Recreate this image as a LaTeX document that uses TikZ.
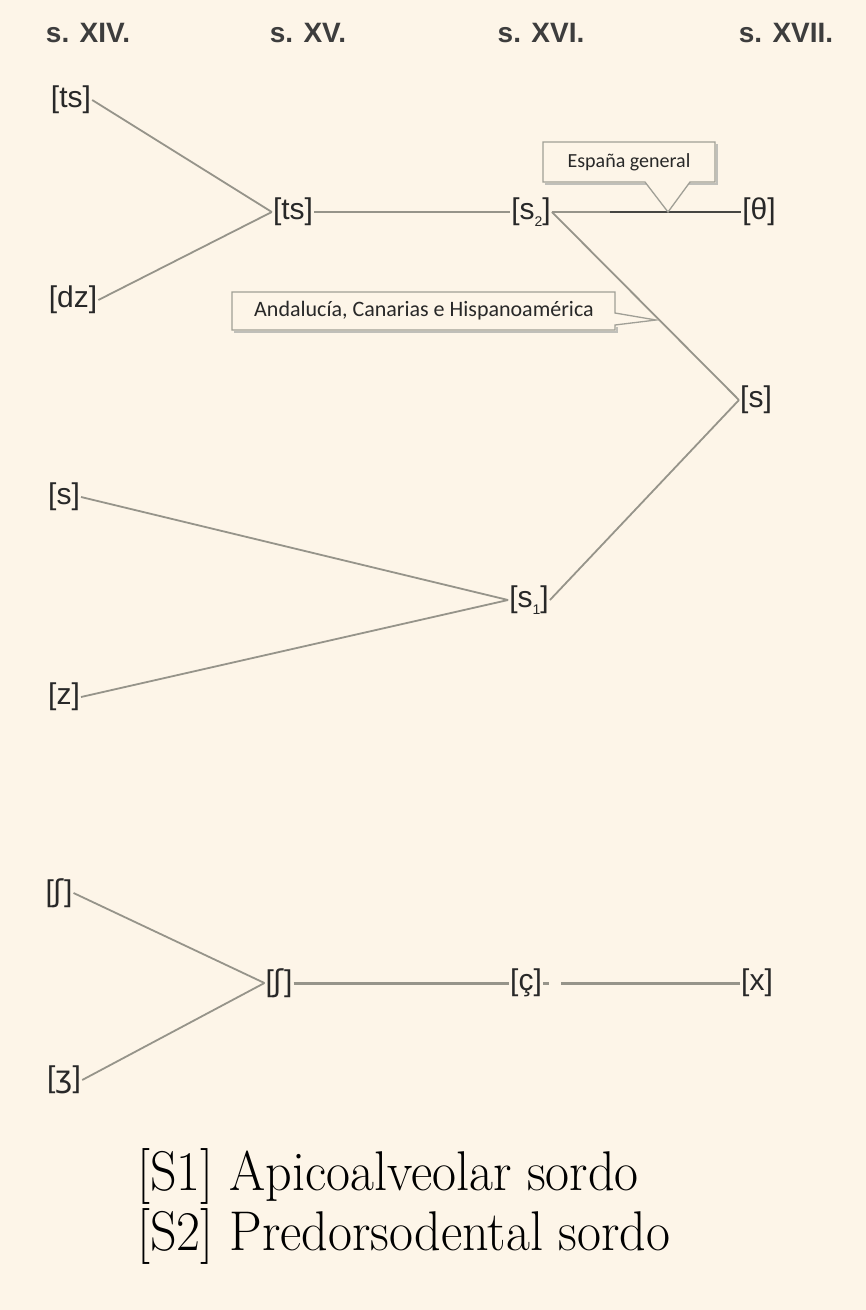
\documentclass[tikz,border=0pt]{standalone}
\usepackage{fontspec}
\newfontfamily\arialfnt{Liberation Sans}
\newfontfamily\ipafnt{DejaVu Sans}
\newfontfamily\calfnt{Carlito}
\definecolor{bg}{RGB}{253,245,232}
\definecolor{ln}{RGB}{150,148,138}
\definecolor{dk}{RGB}{70,70,66}
\definecolor{tx}{RGB}{40,40,40}
\newcommand{\sbs}[1]{\raisebox{-0.25em}{\fontsize{14}{14}\selectfont #1}}
\tikzset{
  lab/.style={font=\arialfnt\fontsize{30}{30}\selectfont, text=tx, inner sep=1pt},
  hdr/.style={font=\arialfnt\bfseries\fontsize{28}{28}\selectfont, text=tx!90, inner sep=0pt},
  con/.style={draw=ln, line width=1.8pt},
  box/.style={draw=ln!90, line width=1.3pt, fill=bg},
  shd/.style={draw=ln!60, line width=1.5pt},
  call/.style={font=\calfnt\fontsize{20}{20}\selectfont, text=tx, inner sep=0pt},
  leg/.style={font=\fontsize{56}{60}\selectfont, text=black, anchor=base west, inner sep=0pt}
}
\begin{document}
\begin{tikzpicture}[x=1pt,y=1pt]
\fill[bg] (0,0) rectangle (866,-1310);
\useasboundingbox (0,0) rectangle (866,-1310);
% headers
\node[hdr] (h1) at (88,-33) {s. XIV.};
\node[hdr] (h2) at (308,-33) {s. XV.};
\node[hdr] (h3) at (541,-33) {s. XVI.};
\node[hdr] (h4) at (786,-33) {s. XVII.};
% nodes
\node[lab] (ts1) at (71,-100) {[ts]};
\node[lab] (dz) at (73,-300) {[dz]};
\node[lab] (ts2) at (293,-212) {[ts]};
\node[lab] (s2) at (531,-212) {[s\sbs{2}]};
\node[lab] (th) at (759,-212) {[θ]};
\node[lab] (sr) at (756,-400) {[s]};
\node[lab] (sl) at (64,-497) {[s]};
\node[lab] (s1) at (529,-600) {[s\sbs{1}]};
\node[lab] (z) at (64,-697) {[z]};
\node[lab] (sh1) at (59,-893) {[{\ipafnt ʃ}]};
\node[lab] (sh2) at (279,-983) {[{\ipafnt ʃ}]};
\node[lab] (cc) at (526,-983) {[ç]};
\node[lab] (xx) at (757,-983) {[x]};
\node[lab] (zh) at (64,-1080) {[{\ipafnt ʒ}]};
% connectors
\draw[con] (ts1.east) -- (ts2.west);
\draw[con] (dz.east) -- (ts2.west);
\draw[con] (ts2.east) -- (s2.west);
\draw[con] (s2.east) -- (th.west);
\draw[con] (s2.east) -- (sr.west);
\draw[con] (s1.east) -- (sr.west);
\draw[con] (sl.east) -- (s1.west);
\draw[con] (z.east) -- (s1.west);
\draw[con] (sh1.east) -- (sh2.west);
\draw[con] (zh.east) -- (sh2.west);
\draw[con, line width=3pt] (sh2.east) -- (cc.west);
\draw[con, line width=3pt, dash pattern=on 6pt off 12pt on 600pt] (cc.east) -- (xx.west);
% callouts
\coordinate (tipE) at (668,-212);
\coordinate (tipA) at (656,-320);
\draw[dk, line width=2pt] (610,-212) -- (th.west);
\draw[shd] (545,-184) -- (717,-184) -- (717,-144);
\draw[box] (543,-142) -- (715,-142) -- (715,-182) -- (690,-182) -- (tipE) -- (645,-182) -- (543,-182) -- cycle;
\node[call] (esp) at (629,-162) {España general};
\draw[shd] (234,-332) -- (617,-332) -- (617,-327);
\draw[box] (232,-292) -- (615,-292) -- (615,-313) -- (tipA) -- (615,-325) -- (615,-330) -- (232,-330) -- cycle;
\node[call, font=\calfnt\fontsize{22}{22}\selectfont] (and) at (424,-311) {Andalucía, Canarias e Hispanoamérica};
% legend
\node[leg] (l1) at (137,-1190) {\scalebox{0.93}[1]{[S1] Apicoalveolar sordo}};
\node[leg] (l2) at (137,-1250) {\scalebox{0.93}[1]{[S2] Predorsodental sordo}};
\end{tikzpicture}
\end{document}
